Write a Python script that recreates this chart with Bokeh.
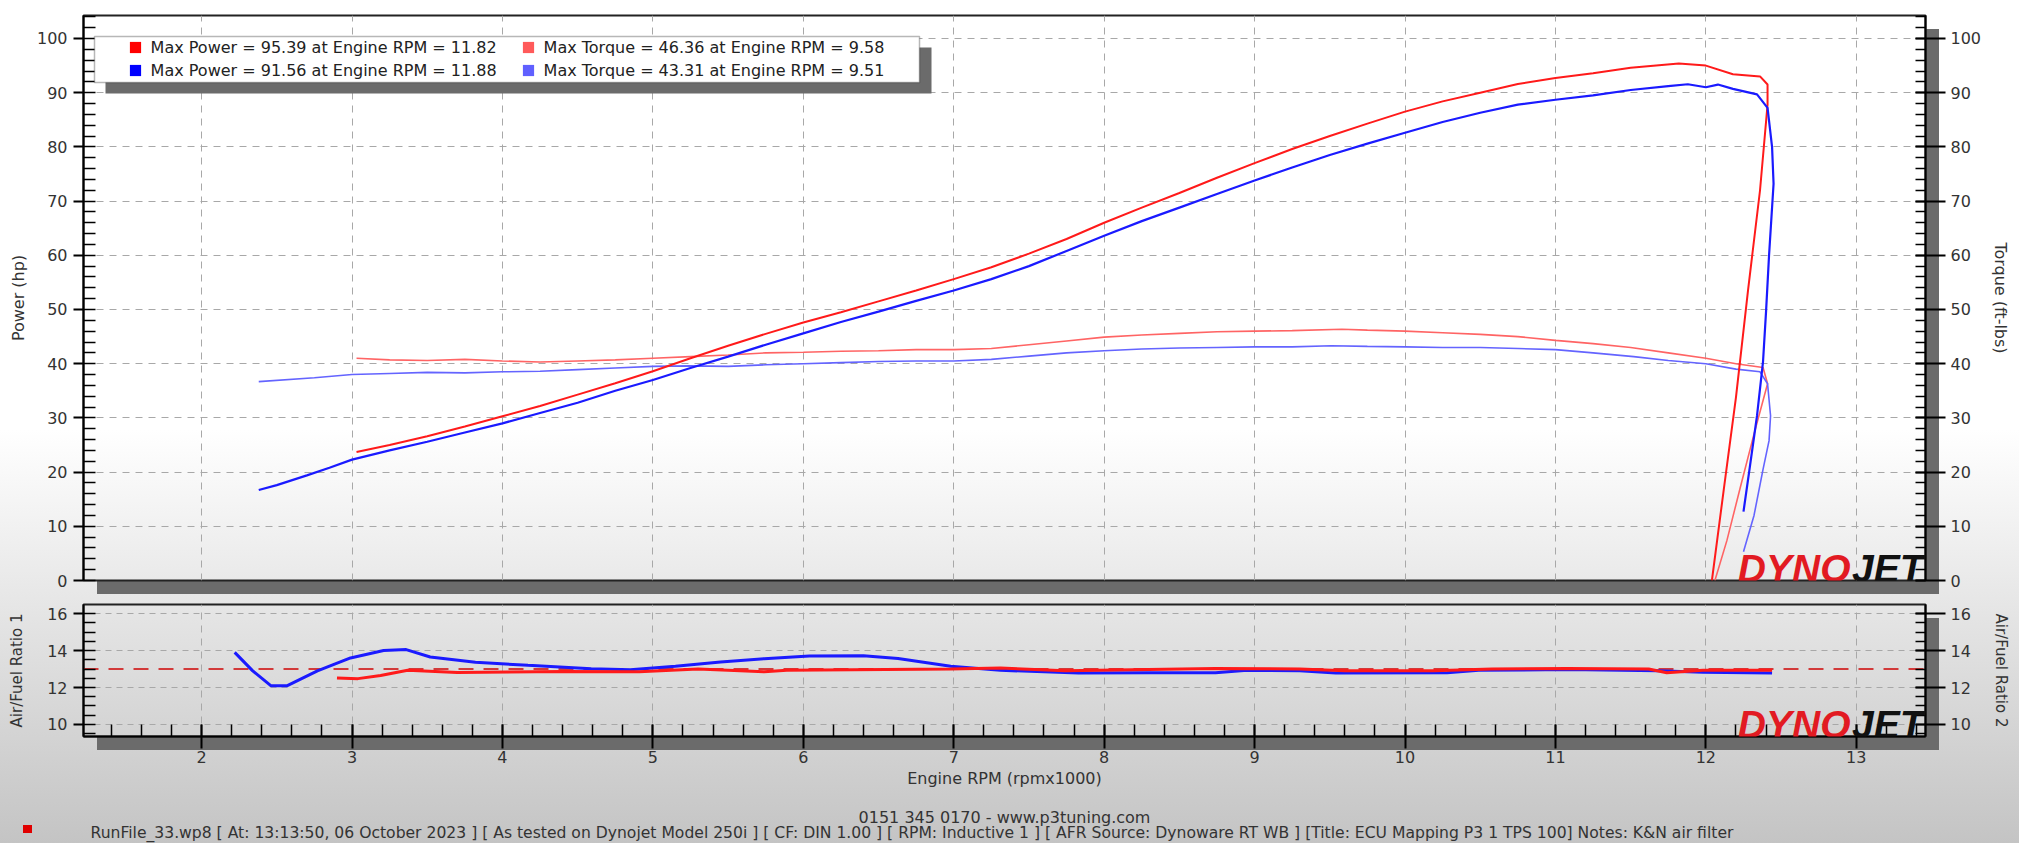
from bokeh.plotting import figure
from bokeh.models import (Range1d, LinearAxis, SingleIntervalTicker, Grid, Legend, LegendItem,
                          BoxAnnotation, Label, Span)
from bokeh.layouts import column
from bokeh.embed import file_html
from bokeh.resources import INLINE

# ---------------- data ----------------
run1_power_rpm = [3.03, 3.25, 3.5, 3.75, 4.0, 4.25, 4.5, 4.75, 5.0, 5.25, 5.5, 5.75, 6.0, 6.25, 6.5, 6.75,
                  7.0, 7.25, 7.5, 7.75, 8.0, 8.25, 8.5, 8.75, 9.0, 9.25, 9.5, 9.75, 10.0, 10.25, 10.5, 10.75,
                  11.0, 11.25, 11.5, 11.82, 12.0, 12.18, 12.36, 12.41, 12.41, 12.36, 12.28, 12.2, 12.12, 12.04]
run1_power_hp = [23.7, 25.0, 26.6, 28.4, 30.3, 32.2, 34.3, 36.4, 38.6, 41.0, 43.3, 45.5, 47.6, 49.5, 51.5, 53.5,
                 55.6, 57.8, 60.3, 63.0, 66.0, 68.8, 71.5, 74.3, 77.0, 79.6, 82.0, 84.3, 86.5, 88.4, 90.0, 91.6,
                 92.7, 93.6, 94.6, 95.39, 95.0, 93.4, 93.0, 91.5, 87.8, 72.0, 53.5, 33.8, 17.0, 0.0]

run1_torque_rpm = [3.03, 3.25, 3.5, 3.75, 4.0, 4.25, 4.5, 4.75, 5.0, 5.25, 5.5, 5.75, 6.0, 6.25, 6.5, 6.75,
                   7.0, 7.25, 7.5, 7.75, 8.0, 8.25, 8.5, 8.75, 9.0, 9.25, 9.58, 9.75, 10.0, 10.25, 10.5, 10.75,
                   11.0, 11.25, 11.5, 11.75, 12.0, 12.2, 12.38, 12.41, 12.32, 12.23, 12.14, 12.06]
run1_torque = [41.0, 40.7, 40.6, 40.8, 40.5, 40.3, 40.5, 40.7, 41.0, 41.3, 41.6, 42.0, 42.1, 42.3, 42.4, 42.6,
               42.6, 42.8, 43.5, 44.2, 44.9, 45.3, 45.6, 45.9, 46.0, 46.1, 46.36, 46.2, 46.0, 45.7, 45.4, 45.0,
               44.3, 43.7, 43.0, 42.0, 41.0, 40.0, 39.3, 36.3, 27.0, 17.3, 7.4, 0.0]

run2_power_rpm = [2.38, 2.5, 2.7, 2.85, 3.0, 3.25, 3.5, 3.75, 4.0, 4.25, 4.5, 4.75, 5.0, 5.25, 5.5, 5.75,
                  6.0, 6.25, 6.5, 6.75, 7.0, 7.25, 7.5, 7.75, 8.0, 8.25, 8.5, 8.75, 9.0, 9.25, 9.5, 9.75,
                  10.0, 10.25, 10.5, 10.75, 11.0, 11.25, 11.5, 11.75, 11.88, 12.0, 12.08, 12.18, 12.34, 12.41,
                  12.44, 12.45, 12.42, 12.4, 12.38, 12.34, 12.29, 12.25]
run2_power_hp = [16.7, 17.6, 19.4, 20.8, 22.3, 24.0, 25.6, 27.3, 29.0, 30.9, 32.8, 35.0, 37.0, 39.2, 41.3, 43.5,
                 45.6, 47.7, 49.6, 51.6, 53.5, 55.6, 58.0, 60.8, 63.6, 66.3, 68.8, 71.3, 73.8, 76.2, 78.5, 80.6,
                 82.6, 84.6, 86.3, 87.8, 88.7, 89.5, 90.5, 91.2, 91.56, 91.0, 91.5, 90.7, 89.7, 87.2,
                 80.0, 73.2, 60.0, 49.6, 40.4, 30.4, 20.5, 12.7]

run2_torque_rpm = [2.38, 2.75, 3.0, 3.25, 3.5, 3.75, 4.0, 4.25, 4.5, 4.75, 5.0, 5.25, 5.5, 5.75, 6.0, 6.25,
                   6.5, 6.75, 7.0, 7.25, 7.5, 7.75, 8.0, 8.25, 8.5, 8.75, 9.0, 9.25, 9.51, 9.75, 10.0, 10.25,
                   10.5, 10.75, 11.0, 11.25, 11.52, 11.75, 12.0, 12.2, 12.36, 12.41, 12.43, 12.42, 12.38, 12.32, 12.25]
run2_torque = [36.7, 37.4, 38.0, 38.2, 38.4, 38.3, 38.5, 38.6, 38.9, 39.2, 39.5, 39.6, 39.5, 39.8, 40.0, 40.2,
               40.4, 40.5, 40.5, 40.8, 41.4, 42.0, 42.4, 42.7, 42.9, 43.0, 43.1, 43.1, 43.31, 43.2, 43.1, 43.0,
               43.0, 42.8, 42.6, 42.0, 41.3, 40.6, 40.0, 39.0, 38.5, 36.3, 30.4, 25.8, 20.5, 12.0, 5.3]

afr1_rpm = [2.90, 3.04, 3.19, 3.37, 3.70, 4.41, 4.91, 5.30, 5.74, 5.89, 6.98, 7.31, 7.74, 8.74, 9.30, 9.60,
            10.19, 10.58, 11.08, 11.62, 11.74, 11.98, 12.44]
afr1 = [12.52, 12.48, 12.65, 12.93, 12.81, 12.87, 12.85, 13.0, 12.85, 12.93, 13.0, 13.05, 12.9, 13.03, 13.0, 12.9,
        12.9, 13.0, 13.03, 13.0, 12.8, 12.93, 12.93]

afr2_rpm = [2.22, 2.34, 2.46, 2.57, 2.77, 2.99, 3.21, 3.36, 3.52, 3.82, 4.17, 4.59, 4.85, 5.15, 5.45, 5.74,
            6.04, 6.40, 6.63, 6.98, 7.31, 7.83, 8.30, 8.74, 8.95, 9.30, 9.54, 10.28, 10.49, 11.08, 11.68, 11.98, 12.44]
afr2 = [13.9, 12.9, 12.1, 12.1, 12.9, 13.6, 14.0, 14.05, 13.65, 13.37, 13.2, 13.02, 12.96, 13.15, 13.38, 13.56,
        13.7, 13.72, 13.57, 13.15, 12.93, 12.78, 12.8, 12.8, 12.93, 12.9, 12.78, 12.8, 12.93, 12.97, 12.9, 12.82, 12.78]

afr_target = 13.0

x_title = "Engine RPM (rpmx1000)"
power_title = "Power (hp)"
torque_title = "Torque (ft-lbs)"
afr1_title = "Air/Fuel Ratio 1"
afr2_title = "Air/Fuel Ratio 2"
footer_phone = "0151 345 0170 - www.p3tuning.com"
footer_run = ("RunFile_33.wp8 [ At: 13:13:50, 06 October 2023 ] [ As tested on Dynojet Model 250i ] "
              "[ CF: DIN 1.00 ] [ RPM: Inductive 1 ] [ AFR Source: Dynoware RT WB ] "
              "[Title: ECU Mapping P3 1 TPS 100]  Notes: K&N air filter")

# ---------------- layout constants (page pixels) ----------------
W, H = 2019, 843
BL, BR = 83, 94
FW = W - BL - BR                 # 1842
T1, FH1, B1 = 15, 565, 16        # main panel: frame 15..580
H1 = T1 + FH1 + B1               # 596
T2, FH2, B2 = 8, 132, 60         # afr panel: frame 604..736
H2 = T2 + FH2 + B2               # 200
H3 = H - H1 - H2                 # footer strip 796..843
X0, X1 = 1.215, 13.46
P0, P1 = 0.0, 104.24
A0, A1 = 9.35, 16.49

FONT = "DejaVu Sans"
RED, BLUE = "#ff1a1a", "#1a1aff"
LRED, LBLUE = "#ff6464", "#6464ff"
SHADOW = "#6b6b6b"
GRID = "#a8a8a8"


def px_x(px):
    return X0 + px * (X1 - X0) / FW


def px_y1(px):
    return P0 + px * (P1 - P0) / FH1


def px_y2(px):
    return A0 + px * (A1 - A0) / FH2


x_range = Range1d(X0, X1)


def make_fig(h, xr, yr, left, right, top, bottom):
    p = figure(width=W, height=h, x_range=xr, y_range=yr, output_backend="svg",
               toolbar_location=None, x_axis_location=None, y_axis_location=None, title=None,
               min_border_left=left, min_border_right=right, min_border_top=top, min_border_bottom=bottom)
    p.center = [c for c in p.center if not isinstance(c, Grid)]   # drop the default grids
    p.background_fill_color = None
    p.border_fill_color = None
    p.outline_line_color = "#222222"
    p.outline_line_width = 2
    return p


def style_axis(ax, label, major_in, major_out, minor_in, title_standoff, label_standoff, title_size="16px"):
    ax.axis_label = label
    ax.axis_label_text_font = FONT
    ax.axis_label_text_font_size = title_size
    ax.axis_label_text_font_style = "normal"
    ax.axis_label_text_color = "#333333"
    ax.axis_label_standoff = title_standoff
    ax.major_label_standoff = label_standoff
    ax.major_label_text_font = FONT
    ax.major_label_text_font_size = "16px"
    ax.major_label_text_color = "#333333"
    ax.axis_line_color = "black"
    ax.axis_line_width = 2
    ax.major_tick_line_color = "black"
    ax.major_tick_line_width = 2
    ax.minor_tick_line_color = "black"
    ax.minor_tick_line_width = 1.5
    ax.major_tick_in = major_in
    ax.major_tick_out = major_out
    ax.minor_tick_in = minor_in
    ax.minor_tick_out = 0


def add_logo(p, y):
    common = dict(x=X1, y=y, text_align="right", text_baseline="middle",
                  text_font="Liberation Sans", text_font_style="bold italic", text_font_size="39px")
    p.add_layout(Label(text="DYNO", x_offset=-75, text_color="#e21a22", **common))
    p.add_layout(Label(text="JET", x_offset=-2, text_color="#111111", **common))


# ---------------- main power / torque panel ----------------
p1 = make_fig(H1, x_range, Range1d(P0, P1), BL, BR, T1, B1)

yl = LinearAxis(ticker=SingleIntervalTicker(interval=10, num_minor_ticks=5))
style_axis(yl, power_title, 0, 10, 12, 6, 6)
p1.add_layout(yl, "left")
yr = LinearAxis(ticker=SingleIntervalTicker(interval=10, num_minor_ticks=5))
style_axis(yr, torque_title, 10, 20, 10, 7, 5)
p1.add_layout(yr, "right")

p1.add_layout(Grid(dimension=0, ticker=SingleIntervalTicker(interval=1),
                   grid_line_color=GRID, grid_line_dash="7 6", grid_line_width=1))
p1.add_layout(Grid(dimension=1, ticker=SingleIntervalTicker(interval=10),
                   grid_line_color=GRID, grid_line_dash="7 6", grid_line_width=1))

p1.line(run1_torque_rpm, run1_torque, line_color=LRED, line_width=1.6)
p1.line(run2_torque_rpm, run2_torque, line_color=LBLUE, line_width=1.6)
p1.line(run1_power_rpm, run1_power_hp, line_color=RED, line_width=2)
p1.line(run2_power_rpm, run2_power_hp, line_color=BLUE, line_width=2.2)

add_logo(p1, px_y1(12.5))


def max_text(kind, rpm, vals):
    i = max(range(len(vals)), key=lambda k: vals[k])
    return f"Max {kind} = {vals[i]:.2f} at Engine RPM = {rpm[i]:.2f}"


# legend frame and its shadow
p1.add_layout(BoxAnnotation(left=px_x(22), right=px_x(848), top=px_y1(FH1 - 32), bottom=px_y1(FH1 - 78),
                            fill_color=SHADOW, fill_alpha=1, line_color=None))
p1.add_layout(BoxAnnotation(left=px_x(11), right=px_x(836), top=px_y1(FH1 - 21), bottom=px_y1(FH1 - 67),
                            fill_color="white", fill_alpha=1, line_color="#111111", line_width=1.5))

swatch_colors = ["#ff0000", "#0000ff", "#ff5a5a", "#6060ff"]
nan = float("nan")
sw = [p1.quad(left=[nan], right=[nan], top=[nan], bottom=[nan], fill_color=c, line_color=None)
      for c in swatch_colors]

legend_common = dict(padding=0, margin=0, border_line_color=None, background_fill_alpha=0,
                     label_standoff=9, glyph_width=14, glyph_height=14, label_height=20, spacing=3,
                     label_text_font=FONT, label_text_font_size="16px", label_text_color="#222222")
leg_a = Legend(items=[LegendItem(label=max_text("Power", run1_power_rpm, run1_power_hp), renderers=[sw[0]]),
                      LegendItem(label=max_text("Power", run2_power_rpm, run2_power_hp), renderers=[sw[1]])],
               location=(44.6, FH1 - 65), **legend_common)
leg_b = Legend(items=[LegendItem(label=max_text("Torque", run1_torque_rpm, run1_torque), renderers=[sw[2]]),
                      LegendItem(label=max_text("Torque", run2_torque_rpm, run2_torque), renderers=[sw[3]])],
               location=(437.6, FH1 - 65), **legend_common)
p1.add_layout(leg_a)
p1.add_layout(leg_b)

# ---------------- AFR panel ----------------
p2 = make_fig(H2, x_range, Range1d(A0, A1), BL, BR, T2, B2)

xb = LinearAxis(ticker=SingleIntervalTicker(interval=1, num_minor_ticks=5))
style_axis(xb, x_title, 12, 12, 12, 3, 2)
p2.add_layout(xb, "below")
al = LinearAxis(ticker=SingleIntervalTicker(interval=2, num_minor_ticks=4))
style_axis(al, afr1_title, 0, 10, 12, 18, 6, "15px")
p2.add_layout(al, "left")
ar = LinearAxis(ticker=SingleIntervalTicker(interval=2, num_minor_ticks=4))
style_axis(ar, afr2_title, 10, 20, 10, 18, 5, "15px")
p2.add_layout(ar, "right")

p2.add_layout(Grid(dimension=0, ticker=SingleIntervalTicker(interval=1),
                   grid_line_color=GRID, grid_line_dash="7 6", grid_line_width=1))
p2.add_layout(Grid(dimension=1, ticker=SingleIntervalTicker(interval=2),
                   grid_line_color=GRID, grid_line_dash="6 5", grid_line_width=1))

p2.add_layout(Span(location=afr_target, dimension="width", line_color="#d23a3a",
                   line_dash="15 10", line_width=2, level="underlay"))
p2.line(afr2_rpm, afr2, line_color=BLUE, line_width=3)
p2.line(afr1_rpm, afr1, line_color=RED, line_width=3)

add_logo(p2, px_y2(12.5))

# ---------------- footer strip (its scale is page pixels) ----------------
p3 = make_fig(H3, Range1d(BL, BL + FW), Range1d(H, H1 + H2), BL, BR, 0, 0)
p3.outline_line_color = None
foot = dict(text_font=FONT, text_color="#333333", text_baseline="middle")
p3.add_layout(Label(x=BL + FW / 2, y=817, text=footer_phone, text_align="center",
                    text_font_size="16px", **foot))
p3.add_layout(Label(x=90, y=832, text=footer_run, text_align="left", text_font_size="15.6px", **foot))

# frame drop-shadows, footer marker and page gradient painted behind the transparent canvases
f1_bottom = T1 + FH1
f2_top = H1 + T2
f2_bottom = f2_top + FH2
rects = [
    (SHADOW, BL + 14, f1_bottom, FW, 14),
    (SHADOW, BL + FW, T1 + 14, 14, FH1 - 14),
    (SHADOW, BL + 14, f2_bottom, FW, 14),
    (SHADOW, BL + FW, f2_top + 14, 14, FH2 - 14),
    ("#e00000", 23, 825, 9, 8),
]
layers = [f"linear-gradient({c}, {c}) {x}px {y}px / {w}px {h}px no-repeat" for c, x, y, w, h in rects]
layers.append("linear-gradient(to bottom, #ffffff 0px, #ffffff 430px, #c4c4c4 843px)")

layout = column(p1, p2, p3)
layout.styles = {"background": ", ".join(layers)}

open("out.html", "w").write(file_html(layout, INLINE))
